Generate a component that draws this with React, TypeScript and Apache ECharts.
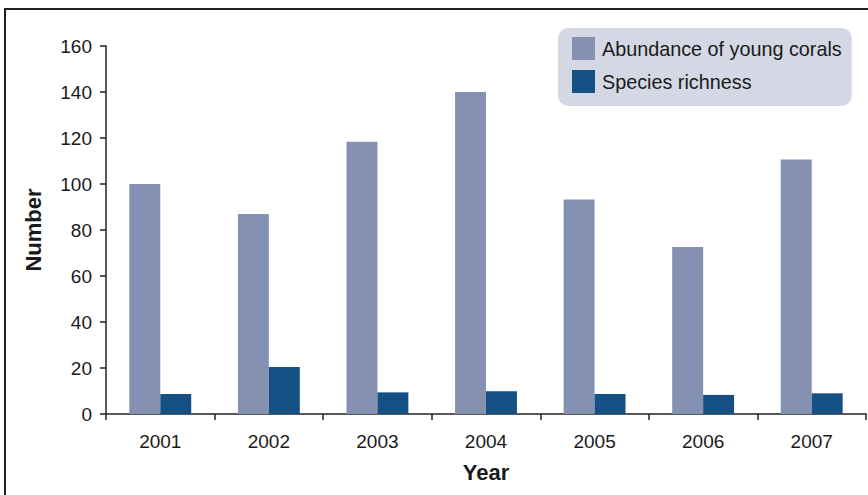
import React, { useEffect, useRef } from "react";
import * as echarts from "echarts";

const years = ["2001", "2002", "2003", "2004", "2005", "2006", "2007"];
const abundance = [100, 87, 118.4, 140, 93.3, 72.6, 110.7];
const richness = [8.7, 20.4, 9.4, 9.9, 8.7, 8.3, 9.0];
const seriesNames = ["Abundance of young corals", "Species richness"];

export default function App() {
  const ref = useRef<HTMLDivElement>(null);
  useEffect(() => {
    if (!ref.current) return;
    const chart = echarts.init(ref.current, undefined, { renderer: "svg" });
    const font = "Liberation Sans, Arial, Helvetica, sans-serif";
    chart.setOption({
      animation: false,
      backgroundColor: "#ffffff",
      textStyle: { fontFamily: font },
      grid: { left: 106, right: 2, top: 46, bottom: 81, containLabel: false },
      legend: {
        orient: "vertical",
        left: 558,
        top: 28,
        padding: [9, 10, 13, 14],
        itemWidth: 23,
        itemHeight: 23,
        itemGap: 10,
        backgroundColor: "#d4d8e4",
        borderRadius: 10,
        icon: "rect",
        textStyle: { fontSize: 19.8, color: "#1a1a1a", fontFamily: font, padding: [0, 0, 0, 2] },
        data: seriesNames,
      },
      xAxis: {
        type: "category",
        data: years,
        name: "Year",
        nameLocation: "middle",
        nameGap: 47,
        nameTextStyle: { fontSize: 22, fontWeight: "bold", color: "#1a1a1a", fontFamily: font },
        axisLine: { lineStyle: { color: "#222", width: 1.5 } },
        axisTick: { show: true, length: 6, lineStyle: { color: "#222", width: 1.5 } },
        axisLabel: { fontSize: 19, color: "#1a1a1a", margin: 18, fontFamily: font },
      },
      yAxis: {
        type: "value",
        min: 0,
        max: 160,
        interval: 20,
        name: "Number",
        nameLocation: "middle",
        nameGap: 62,
        nameRotate: 90,
        nameTextStyle: { fontSize: 22, fontWeight: "bold", color: "#1a1a1a", fontFamily: font },
        axisLine: { show: true, lineStyle: { color: "#222", width: 1.5 } },
        axisTick: { show: true, length: 6, lineStyle: { color: "#222", width: 1.5 } },
        axisLabel: { fontSize: 19, color: "#1a1a1a", margin: 14, fontFamily: font },
        splitLine: { show: false },
      },
      series: [
        {
          name: seriesNames[0],
          type: "bar",
          data: abundance,
          barGap: "0%",
          barCategoryGap: "43%",
          itemStyle: { color: "#8591b3" },
        },
        {
          name: seriesNames[1],
          type: "bar",
          data: richness,
          barGap: "0%",
          barCategoryGap: "43%",
          itemStyle: { color: "#155084" },
        },
      ],
      graphic: [
        {
          type: "rect",
          shape: { x: 5, y: 9, width: 880, height: 500 },
          style: { fill: "none", stroke: "#222", lineWidth: 2 },
          silent: true,
          z: 100,
        },
      ],
    });
    return () => chart.dispose();
  }, []);
  return (
    <div
      ref={ref}
      style={{ position: "absolute", left: 0, top: 0, width: 868, height: 495 }}
    />
  );
}
